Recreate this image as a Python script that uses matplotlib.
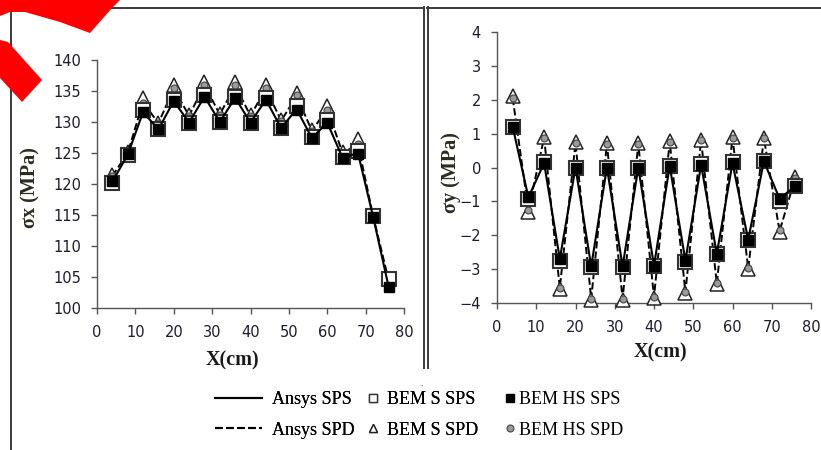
import numpy as np
import matplotlib.pyplot as plt
from matplotlib.lines import Line2D
from matplotlib.patches import Polygon

W, H = 821, 450

# positions along the plate (cm)
x_cm = [4, 8, 12, 16, 20, 24, 28, 32, 36, 40, 44, 48, 52, 56, 60, 64, 68, 72, 76]

# sigma x (MPa)
sx_ansys_sps = [120.4, 124.7, 131.6, 128.8, 133.4, 129.9, 134.1, 130.0, 133.9, 129.9, 133.6, 129.0, 132.1, 127.4, 129.9, 124.2, 125.0, 114.6, 103.4]
sx_bem_s_sps = [120.2, 124.6, 131.9, 128.8, 133.6, 129.9, 134.3, 130.0, 134.1, 129.9, 133.8, 129.1, 132.6, 127.6, 130.4, 124.4, 125.3, 114.9, 104.6]
sx_bem_hs_sps = [120.5, 124.8, 131.6, 128.8, 133.4, 129.9, 134.0, 130.0, 133.9, 129.9, 133.5, 129.0, 132.0, 127.4, 129.9, 124.2, 124.9, 114.6, 103.4]
sx_ansys_spd = [121.3, 125.0, 133.2, 129.8, 135.4, 131.0, 136.0, 131.2, 135.9, 131.0, 135.4, 130.2, 134.2, 128.6, 132.1, 125.0, 126.4, 114.7, 104.5]
sx_bem_s_spd = [121.5, 125.1, 133.8, 129.9, 135.9, 131.1, 136.5, 131.3, 136.4, 131.1, 135.9, 130.3, 134.7, 128.7, 132.6, 125.1, 127.2, 114.8, 104.7]
sx_bem_hs_spd = [121.3, 125.0, 133.0, 129.8, 135.5, 131.0, 136.0, 131.2, 135.9, 131.0, 135.5, 130.2, 134.3, 128.6, 132.0, 125.0, 126.5, 114.7, 104.5]

# sigma y (MPa)
sy_ansys_sps = [1.2, -0.88, 0.13, -2.7, 0.0, -2.92, 0.0, -2.92, 0.0, -2.9, 0.05, -2.75, 0.08, -2.55, 0.13, -2.13, 0.18, -0.92, -0.55]
sy_bem_s_sps = [1.2, -0.92, 0.15, -2.75, 0.0, -2.95, 0.0, -2.95, 0.0, -2.92, 0.05, -2.78, 0.1, -2.55, 0.15, -2.15, 0.2, -1.0, -0.55]
sy_bem_hs_sps = [1.2, -0.88, 0.13, -2.7, 0.0, -2.92, 0.0, -2.92, 0.0, -2.9, 0.05, -2.75, 0.08, -2.55, 0.13, -2.13, 0.18, -0.92, -0.55]
sy_ansys_spd = [2.05, -1.25, 0.88, -3.55, 0.72, -3.88, 0.7, -3.88, 0.7, -3.82, 0.76, -3.68, 0.8, -3.42, 0.88, -2.98, 0.86, -1.88, -0.3]
sy_bem_s_spd = [2.1, -1.3, 0.9, -3.6, 0.75, -3.9, 0.72, -3.9, 0.72, -3.85, 0.78, -3.7, 0.82, -3.45, 0.9, -3.0, 0.88, -1.9, -0.28]
sy_bem_hs_spd = [2.05, -1.25, 0.88, -3.55, 0.72, -3.88, 0.7, -3.88, 0.7, -3.82, 0.76, -3.68, 0.8, -3.42, 0.88, -2.98, 0.86, -1.85, -0.3]

xticks = [0, 10, 20, 30, 40, 50, 60, 70, 80]
sx_ticks = [100, 105, 110, 115, 120, 125, 130, 135, 140]
sy_ticks = [-4, -3, -2, -1, 0, 1, 2, 3, 4]


def fx(x):
    return x / W


def fy(y):
    return 1 - y / H


def rect(x0, y0, x1, y1):
    # pixel box -> figure fraction [left, bottom, width, height]
    return [fx(x0), fy(y1), (x1 - x0) / W, (y1 - y0) / H]


serif = ['Liberation Serif', 'DejaVu Serif']
tick_col = '#1c1c2c'
spine_col = '#555555'

fig = plt.figure(figsize=(W / 100, H / 100), dpi=100)
fig.patch.set_facecolor('white')

ax1 = fig.add_axes(rect(97, 60, 404, 308))
ax2 = fig.add_axes(rect(497, 32, 811, 303))


def draw_series(ax, a_sps, s_sps, hs_sps, a_spd, s_spd, hs_spd):
    ax.plot(x_cm, a_spd, ls='--', color='black', lw=1.4, zorder=2, clip_on=False)
    ax.plot(x_cm, s_spd, ls='none', marker='^', ms=10, mfc='white', mec='#222222',
            mew=1.1, zorder=3, clip_on=False)
    ax.plot(x_cm, hs_spd, ls='none', marker='o', ms=5, mfc='#9a9a9a', mec='#444444',
            mew=0.8, zorder=4, clip_on=False)
    ax.plot(x_cm, s_sps, ls='none', marker='s', ms=10, mfc='white', mec='#333333',
            mew=1.5, zorder=5, clip_on=False)
    ax.plot(x_cm, a_sps, ls='-', color='black', lw=1.5, zorder=6, clip_on=False)
    ax.plot(x_cm, hs_sps, ls='none', marker='s', ms=6.5, mfc='black', mec='black',
            zorder=7, clip_on=False)


draw_series(ax1, sx_ansys_sps, sx_bem_s_sps, sx_bem_hs_sps, sx_ansys_spd, sx_bem_s_spd, sx_bem_hs_spd)
draw_series(ax2, sy_ansys_sps, sy_bem_s_sps, sy_bem_hs_sps, sy_ansys_spd, sy_bem_s_spd, sy_bem_hs_spd)

ax1.set_xlim(0, 80)
ax1.set_ylim(100, 140)
ax1.set_yticks(sx_ticks)
ax2.set_xlim(0, 80)
ax2.set_ylim(-4, 4)
ax2.set_yticks(sy_ticks)

for ax in (ax1, ax2):
    ax.set_xticks(xticks)
    ax.set_facecolor('none')
    for s in ('top', 'right'):
        ax.spines[s].set_visible(False)
    for s in ('left', 'bottom'):
        ax.spines[s].set_color(spine_col)
        ax.spines[s].set_linewidth(1.0)
    ax.tick_params(axis='both', direction='out', length=4.5, width=1.0,
                   color=spine_col, labelsize=10.5, labelcolor=tick_col)
    ax.tick_params(axis='y', pad=7)
    ax.tick_params(axis='x', pad=8)

# axis titles
lab_col = '#2b2b1f'
fig.text(fx(30), fy(188), 'σx (MPa)', rotation=90, ha='center', va='center',
         family=serif, fontsize=14.5, fontweight='bold', color=lab_col)
fig.text(fx(232), fy(360), 'X(cm)', ha='center', va='center',
         family=serif, fontsize=14.5, fontweight='bold', color='#1a1a1a')
fig.text(fx(451), fy(173), 'σy (MPa)', rotation=90, ha='center', va='center',
         family=serif, fontsize=14.5, fontweight='bold', color=lab_col)
fig.text(fx(660), fy(352), 'X(cm)', ha='center', va='center',
         family=serif, fontsize=14.5, fontweight='bold', color='#1a1a1a')

# legend, three columns
col1 = [Line2D([], [], color='black', lw=1.5, ls='-'),
        Line2D([], [], color='black', lw=1.5, ls='--')]
col2 = [Line2D([], [], ls='none', marker='s', ms=5.5, mfc='white', mec='#333333', mew=1.0),
        Line2D([], [], ls='none', marker='^', ms=5.5, mfc='white', mec='#222222', mew=1.0)]
col3 = [Line2D([], [], ls='none', marker='s', ms=5.5, mfc='black', mec='black'),
        Line2D([], [], ls='none', marker='o', ms=5, mfc='#9a9a9a', mec='#444444', mew=0.8)]

leg_kw = dict(loc='upper left', frameon=False, borderpad=0, borderaxespad=0,
              labelspacing=0.75, prop={'family': serif, 'size': 13})
leg1 = fig.legend(col1, ['Ansys SPS', 'Ansys SPD'], bbox_to_anchor=(fx(215), fy(391)),
                  handlelength=2.6, handletextpad=0.55, **leg_kw)
leg2 = fig.legend(col2, ['BEM S SPS', 'BEM S SPD'], bbox_to_anchor=(fx(366), fy(391)),
                  handlelength=0.8, handletextpad=0.35, **leg_kw)
leg3 = fig.legend(col3, ['BEM HS SPS', 'BEM HS SPD'], bbox_to_anchor=(fx(503), fy(391)),
                  handlelength=0.8, handletextpad=0.1, **leg_kw)
fig.add_artist(leg1)
fig.add_artist(leg2)
fig.text(fx(421), fy(384), '..', ha='center', va='center', fontsize=5, color='#555555')

# panel frames
frame = dict(color='#3a3a3a', lw=1.4, transform=fig.transFigure)
for xs, ys in [((10, 424), (7.5, 7.5)),
               ((10.5, 10.5), (11, 450)),
               ((423.5, 423.5), (7, 368)),
               ((427.5, 427.5), (7, 368)),
               ((427, 821), (7.5, 7.5))]:
    fig.add_artist(Line2D([fx(v) for v in xs], [fy(v) for v in ys], **frame))

# red marker stroke in the corner
red_top = [(0, 0), (120, 0), (112, 8), (90, 33), (60, 22), (25, 12), (10, 12), (0, 16)]
red_low = [(0, 40), (8, 42), (42, 80), (22, 102), (0, 78)]
for pts in (red_top, red_low):
    fig.add_artist(Polygon([(fx(a), fy(b)) for a, b in pts], closed=True,
                           facecolor='#ff0000', edgecolor='none',
                           transform=fig.transFigure, zorder=10))

fig.savefig('out.png', dpi=100)
